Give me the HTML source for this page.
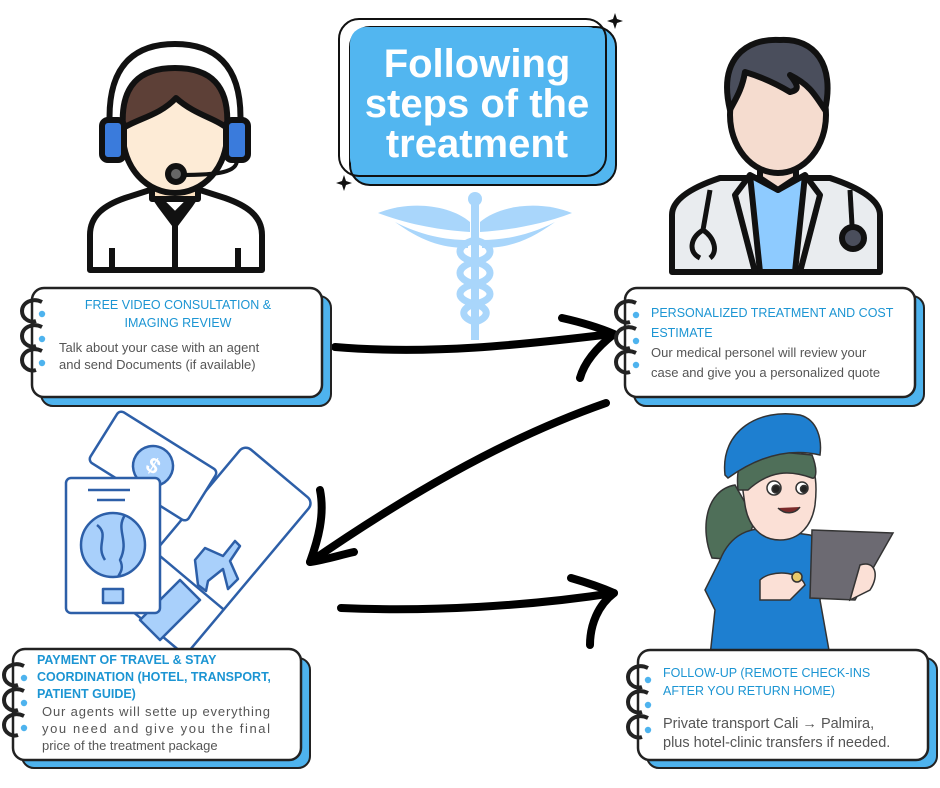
<!DOCTYPE html>
<html><head><meta charset="utf-8"><style>
html,body{margin:0;padding:0;background:#fff;}
svg{display:block;}
.h{font-family:"Liberation Sans",sans-serif;fill:#1c95d3;font-size:12.5px;}
.b{font-family:"Liberation Sans",sans-serif;fill:#555;font-size:13px;}
</style></head><body>
<svg width="940" height="788" viewBox="0 0 940 788" xmlns="http://www.w3.org/2000/svg">
<defs>
<g id="ring">
<path d="M14,-9 C4,-14 -6,-8 -6,0 C-6,8 2,12 8,10" fill="none" stroke="#222" stroke-width="4"/>
<circle cx="14" cy="3" r="3.2" fill="#4eb3ee"/>
</g>
</defs>

<!-- Title -->
<rect x="350" y="27" width="266" height="158" rx="20" fill="#52b6f0" stroke="#111" stroke-width="2"/>
<rect x="339" y="19" width="267" height="157" rx="20" fill="none" stroke="#111" stroke-width="2"/>
<rect x="350" y="27" width="254" height="147" rx="16" fill="#52b6f0"/>
<g font-family="'Liberation Sans',sans-serif" font-weight="bold" font-size="40" fill="#fff" text-anchor="middle">
<text x="477" y="77">Following</text>
<text x="477" y="117">steps of the</text>
<text x="477" y="157">treatment</text>
</g>
<path d="M615,13 l2,6 6,2 -6,2 -2,6 -2,-6 -6,-2 6,-2z" fill="#111"/>
<path d="M344,175 l2,6 6,2 -6,2 -2,6 -2,-6 -6,-2 6,-2z" fill="#111"/>

<!-- Caduceus -->
<g fill="#a9d6fb">
<path d="M378,213 C410,200 450,205 470,222 L470,232 C440,230 410,225 378,213z"/>
<path d="M572,213 C540,200 500,205 480,222 L480,232 C510,230 540,225 572,213z"/>
<path d="M395,222 C420,235 445,240 468,240 L468,248 C440,248 420,240 395,222z"/>
<path d="M555,222 C530,235 505,240 482,240 L482,248 C510,248 530,240 555,222z"/>
<circle cx="475" cy="199" r="7"/>
<rect x="471" y="200" width="8" height="140"/>
</g>
<path d="M475,240 C455,245 455,258 475,262 C495,266 495,280 475,284 C455,288 455,300 475,304 C490,308 490,318 475,322" fill="none" stroke="#a9d6fb" stroke-width="7"/>
<path d="M475,240 C495,245 495,258 475,262 C455,266 455,280 475,284 C495,288 495,300 475,304 C460,308 460,318 475,322" fill="none" stroke="#a9d6fb" stroke-width="7"/>

<!-- Agent -->
<g stroke="#111" stroke-width="6" stroke-linejoin="round">
<path d="M90,270 L90,235 C90,215 105,205 125,198 L150,190 L200,190 L225,198 C245,205 262,215 262,235 L262,270 Z" fill="#fff"/>
<path d="M150,190 L175,215 L200,190 L190,205 L175,225 L160,205Z" fill="#d0d0d0"/>
<path d="M175,215 L175,270" />
<path d="M112,248 L112,270 M238,248 L238,270" />
<rect x="152" y="175" width="46" height="24" fill="#fde2c2"/>
<ellipse cx="175" cy="135" rx="52" ry="58" fill="#fdebd6"/>
<path d="M123,128 C120,85 140,68 175,68 C210,68 230,85 227,128 C215,118 195,115 176,98 C160,115 140,118 123,128Z" fill="#5d4037"/>
<path d="M110,130 C105,60 140,44 175,44 C210,44 245,60 240,130" fill="none"/>
<rect x="102" y="120" width="22" height="40" rx="6" fill="#3a7bdc"/>
<rect x="226" y="120" width="22" height="40" rx="6" fill="#3a7bdc"/>
<path d="M237,160 C237,172 220,175 180,175" fill="none" stroke-width="4"/>
<circle cx="176" cy="174" r="8" fill="#666"/>
</g>

<!-- Doctor -->
<g stroke="#111" stroke-width="6" stroke-linejoin="round">
<path d="M672,272 L672,215 C672,200 690,188 720,178 L830,178 C860,188 880,200 880,215 L880,272 Z" fill="#e9ecef"/>
<path d="M750,175 L760,272 L795,272 L805,175 L778,190Z" fill="#8ecbff"/>
<path d="M750,175 L735,195 L755,272 M805,175 L820,195 L800,272" fill="none"/>
<path d="M710,190 L703,230 C690,238 688,252 700,258 M703,230 C715,238 718,252 710,258" fill="none" stroke-width="5"/>
<path d="M850,190 L852,225" fill="none" stroke-width="5"/>
<circle cx="853" cy="238" r="11" fill="#4a4e5c"/>
<path d="M760,150 L760,178 L778,190 L796,178 L796,150Z" fill="#f5dccf"/>
<ellipse cx="778" cy="115" rx="48" ry="58" fill="#f5dccf"/>
<path d="M730,110 C718,60 745,38 780,40 C815,38 835,65 825,110 C815,95 810,85 790,75 C798,85 800,90 790,92 C770,80 755,75 745,72 C742,90 735,100 730,110Z" fill="#4a4e5c"/>
</g>

<!-- Passport / tickets -->
<g stroke="#2d5fa8" stroke-width="2.5" stroke-linejoin="round">
<g transform="translate(215,550) rotate(40)">
<rect x="-45" y="-100" width="90" height="200" rx="8" fill="#fff"/>
<path d="M-45,40 L45,40" fill="none"/>
</g>
<path d="M180,580 L200,600 L160,640 L140,620Z" fill="#a9d0fb"/>
<path d="M195,560 l10,-12 l18,8 l12,-15 l5,5 l-10,15 l8,18 l-10,10 l-5,-20 l-15,12 l-2,10 l-8,-6z" fill="#a9d0fb"/>
<g transform="translate(153,466) rotate(32)">
<rect x="-58" y="-30" width="116" height="60" rx="5" fill="#fff"/>
<circle cx="0" cy="0" r="20" fill="#a9d0fb"/>
<text x="0" y="7" font-family="Liberation Sans" font-weight="bold" font-size="22" fill="#fff" stroke="none" text-anchor="middle">$</text>
</g>
<rect x="66" y="478" width="94" height="135" rx="5" fill="#fff"/>
<circle cx="113" cy="545" r="32" fill="#a9d0fb"/>
<path d="M97,525 C110,535 95,545 105,560 M125,515 C115,530 130,540 120,560 C125,570 118,575 118,577" fill="none"/>
<rect x="103" y="589" width="20" height="14" fill="#a9d0fb"/>
<path d="M88,490 L130,490 M97,500 L125,500" fill="none"/>
</g>

<!-- Nurse -->
<g stroke="#333" stroke-width="1.5">
<path d="M712,558 C700,530 705,490 735,485 L755,520 L740,560Z" fill="#4f6f59"/>
<path d="M720,560 C730,535 750,525 775,530 L810,535 C825,540 830,560 820,600 L830,656 L710,656 L715,610 L705,590 Z" fill="#1e7fd0"/>
<path d="M740,470 C740,445 760,450 795,450 C815,455 818,480 815,505 C812,525 800,540 780,540 C760,540 748,525 745,505Z" fill="#fbe0d6"/>
<path d="M738,490 C735,460 745,455 760,450 L812,455 C818,470 816,480 812,478 C790,470 770,470 748,490Z" fill="#4f6f59"/>
<path d="M725,475 C720,430 760,408 800,415 C818,420 822,440 820,455 C790,448 760,455 728,478Z" fill="#1e7fd0"/>
<circle cx="774" cy="488" r="7" fill="#fff"/><circle cx="776" cy="489" r="4" fill="#222"/>
<circle cx="802" cy="488" r="6" fill="#fff"/><circle cx="804" cy="489" r="3.5" fill="#222"/>
<path d="M778,508 C785,515 795,514 800,507" fill="#7a2a2a"/>
<path d="M812,530 L893,533 L855,600 L810,598Z" fill="#6c6a72"/>
<path d="M760,580 C770,570 800,570 805,585 L790,600 L760,600Z" fill="#fbe0d6"/>
<path d="M860,565 C875,560 880,575 870,590 L850,600Z" fill="#fbe0d6"/>
<circle cx="797" cy="577" r="5" fill="#e8c96a"/>
</g>

<!-- Arrows -->
<g fill="none" stroke="#000" stroke-width="8" stroke-linecap="round" stroke-linejoin="round">
<path d="M335,347 C430,355 520,345 612,334"/>
<path d="M562,318 C580,322 600,328 614,334 C600,345 585,360 580,378"/>
<path d="M606,403 C500,440 400,500 310,562"/>
<path d="M320,490 C325,515 318,540 310,562 C325,560 340,555 354,552"/>
<path d="M341,608 C430,612 530,606 614,593"/>
<path d="M571,578 C585,582 600,587 614,593 C598,605 590,625 590,645"/>
</g>

<!-- Card 1 -->
<rect x="41" y="296" width="290" height="110" rx="12" fill="#4eb3ee" stroke="#222" stroke-width="2"/>
<rect x="32" y="288" width="290" height="109" rx="12" fill="#fff" stroke="#222" stroke-width="2.5"/>
<use href="#ring" x="28" y="311"/><use href="#ring" x="28" y="336"/><use href="#ring" x="28" y="360"/>
<text class="h" x="178" y="309" text-anchor="middle">FREE VIDEO CONSULTATION  &amp;</text>
<text class="h" x="178" y="327" text-anchor="middle">IMAGING REVIEW</text>
<text class="b" x="59" y="352">Talk about your case with an agent</text>
<text class="b" x="59" y="369">and send Documents (if available)</text>

<!-- Card 2 -->
<rect x="634" y="296" width="290" height="110" rx="12" fill="#4eb3ee" stroke="#222" stroke-width="2"/>
<rect x="625" y="288" width="290" height="109" rx="12" fill="#fff" stroke="#222" stroke-width="2.5"/>
<use href="#ring" x="622" y="312"/><use href="#ring" x="622" y="338"/><use href="#ring" x="622" y="362"/>
<text class="h" x="651" y="317">PERSONALIZED TREATMENT AND COST</text>
<text class="h" x="651" y="337">ESTIMATE</text>
<text class="b" x="651" y="357">Our medical personel will review your</text>
<text class="b" x="651" y="377">case and give you a personalized quote</text>

<!-- Card 3 -->
<rect x="22" y="658" width="288" height="110" rx="12" fill="#4eb3ee" stroke="#222" stroke-width="2"/>
<rect x="13" y="649" width="288" height="111" rx="12" fill="#fff" stroke="#222" stroke-width="2.5"/>
<use href="#ring" x="10" y="675"/><use href="#ring" x="10" y="700"/><use href="#ring" x="10" y="725"/>
<g class="h" font-weight="bold" style="font-weight:bold">
<text class="h" x="37" y="664" font-weight="bold">PAYMENT OF TRAVEL &amp; STAY</text>
<text class="h" x="37" y="681" font-weight="bold">COORDINATION (HOTEL, TRANSPORT,</text>
<text class="h" x="37" y="698" font-weight="bold">PATIENT GUIDE)</text>
</g>
<text class="b" x="42" y="716" textLength="228" lengthAdjust="spacing">Our agents will sette up everything</text>
<text class="b" x="42" y="733" textLength="228" lengthAdjust="spacing">you need and give you the final</text>
<text class="b" x="42" y="750">price of the treatment package</text>

<!-- Card 4 -->
<rect x="647" y="658" width="290" height="110" rx="12" fill="#4eb3ee" stroke="#222" stroke-width="2"/>
<rect x="638" y="650" width="290" height="110" rx="12" fill="#fff" stroke="#222" stroke-width="2.5"/>
<use href="#ring" x="634" y="677"/><use href="#ring" x="634" y="702"/><use href="#ring" x="634" y="727"/>
<text class="h" x="663" y="677">FOLLOW-UP (REMOTE CHECK-INS</text>
<text class="h" x="663" y="695">AFTER YOU RETURN HOME)</text>
<text class="b" x="663" y="728" style="font-size:14.5px">Private transport Cali → Palmira,</text>
<text class="b" x="663" y="747" style="font-size:14.5px">plus hotel-clinic transfers if needed.</text>
</svg>
</body></html>
